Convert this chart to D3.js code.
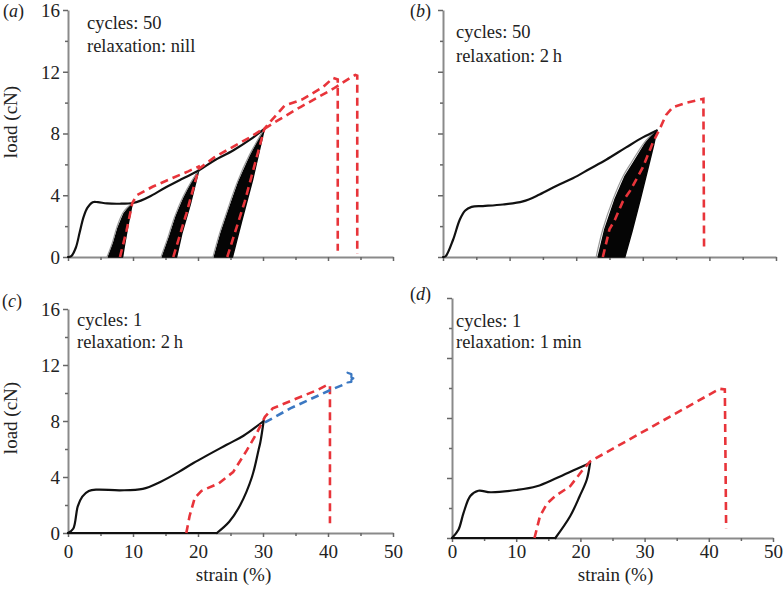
<!DOCTYPE html>
<html>
<head>
<meta charset="utf-8">
<script src="https://cdn.jsdelivr.net/npm/d3@7/dist/d3.min.js"></script>
<style>
  html, body { margin: 0; padding: 0; background: #fff; }
  svg { display: block; }
  svg text { font-family: "Liberation Serif", "Times New Roman", Times, "Noto Serif", "DejaVu Serif", serif; }
</style>
</head>
<body>
<svg id="chart" width="784" height="589"></svg>
<script>
// ---------------- DATA ----------------
const strainTicks = [0, 10, 20, 30, 40, 50];
const strainMinorTicks = [5, 15, 25, 35, 45];
const loadTicks = [0, 4, 8, 12, 16];
const loadMinorTicks = [2, 6, 10, 14];
const panelLetters = ["a", "b", "c", "d"];
const panelNotes = [
  ["cycles: 50", "relaxation: nill"],
  ["cycles: 50", "relaxation: 2\u2009h"],
  ["cycles: 1", "relaxation: 2\u2009h"],
  ["cycles: 1", "relaxation: 1\u2009min"]
];
const xLabel = "strain (%)";
const yLabel = "load (cN)";

// panel (a)
const aLoading = [[0,0],[0.5,0.05],[1.2,0.6],[1.8,1.6],[2.4,2.6],[3.0,3.2],[3.8,3.55],[4.6,3.55],[6,3.47],[8,3.45],[10,3.5],[11.2,3.65],[12.5,3.9],[15,4.5],[17.5,5.05],[20.1,5.6],[22.5,6.25],[25.4,6.9],[28,7.6],[30.2,8.3]];
const aBundle1Left = [[6.2,0],[7.0,0.9],[7.7,1.9],[8.6,2.8],[9.9,3.5]];
const aBundle1Right = [[9.9,3.5],[9.2,2.0],[8.7,0.8],[8.4,0]];
const aBundle2Left = [[14.5,0],[15.6,1.3],[16.6,2.6],[17.8,3.8],[19.0,4.8],[20.1,5.6]];
const aBundle2Right = [[20.1,5.6],[18.8,3.4],[17.5,1.5],[16.7,0]];
const aBundle3Left = [[22.5,0],[23.5,1.5],[24.7,3.0],[26.2,4.8],[28.0,6.5],[30.2,8.3]];
const aBundle3Right = [[30.2,8.3],[28.4,5.0],[26.7,2.3],[25.3,0]];
const aGray1 = [[6.0,0],[6.8,0.9],[7.5,1.9],[8.5,2.9],[9.9,3.5]];
const aGray2 = [[14.3,0],[15.4,1.3],[16.4,2.6],[17.7,3.9],[19.0,4.9],[20.1,5.6]];
const aGray3 = [[22.3,0],[23.3,1.5],[24.5,3.0],[26.0,4.8],[27.9,6.6],[30.2,8.3]];
const aRed1 = [[8.0,0],[9.0,1.7],[9.9,3.5],[10.6,4.0],[13,4.55],[16,5.1],[18.5,5.55],[20.3,5.9]];
const aRed2 = [[16.2,0],[18.2,2.8],[20.1,5.7],[22.5,6.45],[25,7.05],[28,7.75],[30.2,8.35]];
const aRed3 = [[24.5,0],[27.2,3.6],[30.2,8.3],[31.2,8.8],[33.3,9.8],[36,10.2],[39.2,11.0],[40.8,11.6],[41.5,11.5],[41.5,0.4]];
const aRed4 = [[30.2,8.3],[31.5,8.65],[35.7,9.7],[40.8,10.9],[43.4,11.6],[44.2,11.8],[44.5,11.75],[44.5,0.2]];

// panel (b)
const bLoading = [[0,0],[0.4,0.05],[1.5,1.1],[2.5,2.4],[3.3,3.0],[4.3,3.25],[6,3.3],[9,3.4],[12,3.6],[14.5,4.05],[17,4.6],[19.5,5.1],[22,5.7],[24.5,6.3],[27.5,7.1],[30,7.75],[32.1,8.2]];
const bBundleLeft = [[23.3,0],[24.3,1.8],[25.8,3.7],[27.3,5.2],[28.6,6.1],[30.3,7.3],[31.7,8.1],[32.1,8.2]];
const bBundleRight = [[32.1,8.2],[31.6,7.2],[30.8,5.8],[29.6,3.7],[28.4,1.7],[27.3,0]];
const bGray = [[23.0,0],[24.0,1.8],[25.5,3.7],[27.0,5.2],[28.4,6.2],[30.2,7.4],[31.7,8.1]];
const bRed = [[24.0,0],[25.0,1.8],[25.8,2.4],[27,3.6],[28.1,4.3],[30,5.8],[31.5,7.4],[32.6,8.35],[33.5,9.2],[34.5,9.7],[36.6,10.0],[39.1,10.25],[39.2,0.4]];

// panel (c)
const cLoading = [[0,0],[0.8,0.3],[1.5,1.9],[2.2,2.6],[3.2,3.0],[4.5,3.1],[8,3.05],[11.5,3.15],[14.2,3.65],[17,4.35],[19.3,5.0],[24.4,6.3],[27,6.95],[30.1,8.0]];
const cUnloading = [[30.1,8.0],[29.6,6.5],[29.3,5.9],[28.3,4.0],[26.5,2.0],[24.8,0.8],[22.9,0]];
const cBase = [[22.9,0],[0,0]];
const cRed = [[18.2,0],[18.7,1.2],[19.5,2.5],[20.5,3.0],[23.2,3.55],[25.4,4.35],[27.5,5.9],[29,7.1],[30.3,8.3],[31.5,8.9],[34.6,9.5],[38.3,10.2],[40.0,10.6],[40.3,10.5],[40.3,0.7]];
const cBlue = [[30.3,7.9],[34.2,8.9],[40.3,10.2],[42.4,10.6]];
const cBlueBracket = [[43.0,11.45],[43.6,11.35],[43.6,11.1],[43.9,11.05],[43.6,10.95],[43.6,10.8],[43.0,10.75]];

// panel (d)
const dLoading = [[0,0],[1.0,0.55],[1.8,1.67],[2.85,2.8],[4.1,3.15],[6.0,3.05],[10.1,3.2],[13.2,3.45],[16.3,4.0],[19.4,4.6],[21.5,5.0]];
const dUnloading = [[21.5,5.0],[21.0,3.9],[19.9,2.8],[18.4,1.45],[16.1,0]];
const dBase = [[16.1,0],[0,0]];
const dRed = [[12.85,0],[13.7,1.45],[14.8,2.3],[16.1,2.8],[18.4,3.45],[20.2,4.45],[21.5,5.1],[41.7,9.95],[42.5,9.9],[42.7,0.65]];

// ---------------- LAYOUT ----------------
const svg = d3.select("#chart");
const RED = "#e8343a", BLUE = "#3b78c2", BLACK = "#111", AXIS = "#8a8a8a";

const panels = [
  { key: "a", x0: 68,  x1: 393, y0: 257, y1: 10,  yLabels: true,  xLabels: false, letter: [3, 17],   note: [87, 29, 23],  yTitleY: 122 },
  { key: "b", x0: 443, x1: 776, y0: 257, y1: 10,  yLabels: false, xLabels: false, letter: [410, 17], note: [456, 38, 24] },
  { key: "c", x0: 68,  x1: 393, y0: 533, y1: 309, yLabels: true,  xLabels: true,  letter: [2, 307],  note: [77, 326, 22], yTitleY: 418, xTickY: 545 },
  { key: "d", x0: 452, x1: 773, y0: 538, y1: 298, yLabels: false, xLabels: true,  letter: [410, 300], note: [456, 327, 21], xTickY: 545 }
];

function setup(p) {
  p.x = d3.scaleLinear().domain([0, 50]).range([p.x0, p.x1]);
  p.y = d3.scaleLinear().domain([0, 16]).range([p.y0, p.y1]);
  p.smooth = d3.line().x(d => p.x(d[0])).y(d => p.y(d[1])).curve(d3.curveCatmullRom.alpha(0.5));
  p.straight = d3.line().x(d => p.x(d[0])).y(d => p.y(d[1]));
  const g = svg.append("g");
  p.g = g;

  const yAx = g.append("g").attr("transform", `translate(${p.x0},0)`)
    .call(d3.axisLeft(p.y).tickValues(loadTicks).tickSize(5).tickSizeOuter(0)
      .tickFormat(p.yLabels ? d3.format("d") : () => ""));
  const yMin = g.append("g").attr("transform", `translate(${p.x0},0)`)
    .call(d3.axisLeft(p.y).tickValues(loadMinorTicks).tickSize(3).tickSizeOuter(0).tickFormat(() => ""));
  yMin.select(".domain").remove();
  const xAx = g.append("g").attr("transform", `translate(0,${p.y0})`)
    .call(d3.axisBottom(p.x).tickValues(strainTicks).tickSize(4).tickSizeOuter(0)
      .tickFormat(p.xLabels ? d3.format("d") : () => ""));
  const xMin = g.append("g").attr("transform", `translate(0,${p.y0})`)
    .call(d3.axisBottom(p.x).tickValues(strainMinorTicks).tickSize(3).tickSizeOuter(0).tickFormat(() => ""));
  xMin.select(".domain").remove();

  [yAx, yMin, xAx, xMin].forEach(a => {
    a.attr("font-family", null).attr("font-size", null);
    a.selectAll(".domain").attr("stroke", AXIS).attr("stroke-width", 2);
    a.selectAll(".tick line").attr("stroke", "#666").attr("stroke-width", 1.5);
    a.selectAll(".tick text").attr("font-size", 19).attr("fill", "#222");
  });
  yAx.selectAll(".tick text").attr("x", -8).attr("dy", "0.33em");
  if (p.xLabels) {
    xAx.selectAll(".tick text").attr("y", p.xTickY - p.y0).attr("dy", "0.71em");
  }

  const t = g.append("text").attr("x", p.letter[0]).attr("y", p.letter[1])
    .attr("font-size", 18).attr("fill", "#222");
  t.append("tspan").text("(");
  t.append("tspan").attr("font-style", "italic").text(p.key);
  t.append("tspan").text(")");

  const idx = panelLetters.indexOf(p.key);
  panelNotes[idx].forEach((s, i) => {
    g.append("text").attr("x", p.note[0]).attr("y", p.note[1] + i * p.note[2])
      .attr("font-size", 18.5).attr("fill", "#222").text(s);
  });

  if (p.yLabels) {
    g.append("text").attr("transform", `translate(17,${p.yTitleY}) rotate(-90)`)
      .attr("text-anchor", "middle").attr("font-size", 19)
      .attr("fill", "#222").text(yLabel);
  }
  if (p.xLabels) {
    g.append("text").attr("x", (p.x0 + p.x1) / 2 + 3).attr("y", 581)
      .attr("text-anchor", "middle").attr("font-size", 19)
      .attr("fill", "#222").text(xLabel);
  }
  return p;
}

const P = {};
panels.forEach(p => { P[p.key] = setup(p); });

function bundle(p, left, right) {
  p.g.append("path").attr("d", p.straight(left.concat(right)) + "Z")
    .attr("fill", "#050505").attr("stroke", "#050505").attr("stroke-width", 1.5).attr("stroke-linejoin", "round");
}
function solid(p, data, color, w, smooth) {
  p.g.append("path").attr("d", (smooth === false ? p.straight : p.smooth)(data))
    .attr("fill", "none").attr("stroke", color).attr("stroke-width", w)
    .attr("stroke-linejoin", "round").attr("stroke-linecap", "round");
}
function dashed(p, data, color) {
  p.g.append("path").attr("d", p.straight(data))
    .attr("fill", "none").attr("stroke", color).attr("stroke-width", 2.6)
    .attr("stroke-dasharray", "8,5");
}

const a = P.a;
bundle(a, aBundle1Left, aBundle1Right);
bundle(a, aBundle2Left, aBundle2Right);
bundle(a, aBundle3Left, aBundle3Right);
solid(a, aGray1, "#9a9a9a", 1.2);
solid(a, aGray2, "#9a9a9a", 1.2);
solid(a, aGray3, "#9a9a9a", 1.2);
solid(a, aLoading, BLACK, 2.2);
dashed(a, aRed1, RED);
dashed(a, aRed2, RED);
dashed(a, aRed3, RED);
dashed(a, aRed4, RED);

const b = P.b;
bundle(b, bBundleLeft, bBundleRight);
solid(b, bGray, "#9a9a9a", 1.2);
solid(b, bLoading, BLACK, 2.2);
dashed(b, bRed, RED);

const c = P.c;
solid(c, cLoading, BLACK, 2.2);
solid(c, cUnloading, BLACK, 2.2);
solid(c, cBase, BLACK, 2.2, false);
dashed(c, cRed, RED);
dashed(c, cBlue, BLUE);
solid(c, cBlueBracket, BLUE, 2.2, false);

const d = P.d;
solid(d, dLoading, BLACK, 2.2);
solid(d, dUnloading, BLACK, 2.2);
solid(d, dBase, BLACK, 2.2, false);
dashed(d, dRed, RED);
</script>
</body>
</html>
